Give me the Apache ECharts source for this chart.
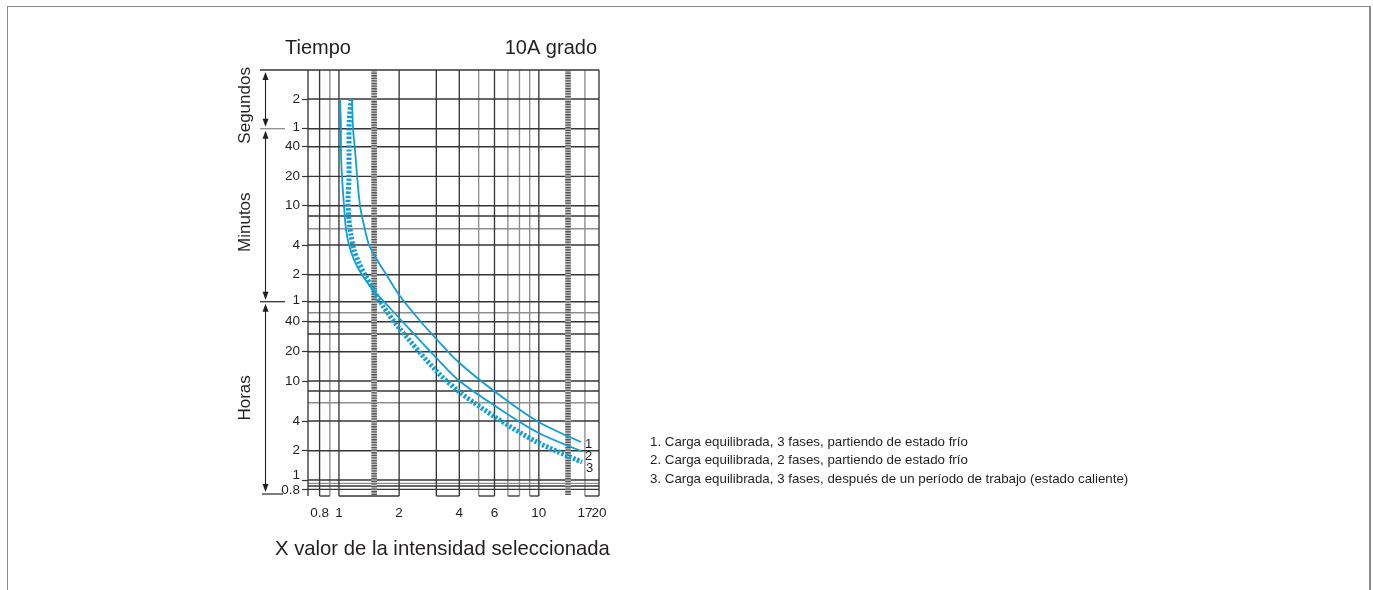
<!DOCTYPE html>
<html><head><meta charset="utf-8">
<script src="https://cdn.jsdelivr.net/npm/echarts@6/dist/echarts.min.js"></script>
<style>
html,body{margin:0;padding:0;background:#fff;}
#frame{position:absolute;left:7px;top:6px;width:1364px;height:620px;border-top:1.5px solid #8a8a8a;border-left:1.5px solid #8a8a8a;border-right:2px solid #8a8a8a;box-sizing:border-box;}
#chart{position:absolute;left:0;top:0;width:1373px;height:590px;}
</style></head><body>
<div id="frame"></div>
<div id="chart"></div>
<script>
// ---- data ----
const xMin = 0.7, xMax = 20;
const yMin = 0, yMax = 4.26;            // virtual position scale (top = 4.26)
const xTickValues = [0.8, 1, 2, 4, 6, 10, 17, 20];
const xTickLabels = ['0.8', '1', '2', '4', '6', '10', '17', '20'];
const yTickPos    = [3.97, 3.673, 3.493, 3.197, 2.903, 2.51, 2.213, 1.943, 1.743, 1.443, 1.15, 0.75, 0.453, 0.16, 0.067];
const yLabelPos   = [3.97, 3.69, 3.493, 3.197, 2.903, 2.51, 2.213, 1.96, 1.743, 1.443, 1.15, 0.75, 0.453, 0.21, 0.06];
const yTickLabels = ['2','1','40','20','10','4','2','1','40','20','10','4','2','1','0.8'];
const hLinesDark = [4.26, 3.97, 3.673, 3.493, 3.197, 2.903, 2.8, 2.51, 2.213, 1.943, 1.743, 1.62, 1.443, 1.15, 1.05, 0.75, 0.453, 0.16, 0.10, 0.067];
const hLinesGray = [2.673, 1.833, 0.933, 0.127];
const vLinesDark = [0.7, 0.8, 1, 2, 3.07, 4, 6, 10, 20];
const vLinesGray = [0.9, 5, 7, 8, 9, 17];
const vLinesHatched = [1.5, 14];
const bottomBoxes = [[0.8, 0.9], [1, 2], [3.07, 4], [5, 6], [7, 8], [9, 10], [17, 20]];
const sectionBounds = [4.26, 3.673, 1.943, 0.02];
const sectionNames = ['Segundos', 'Minutos', 'Horas'];
const curveNames = ['1', '2', '3'];
const curve1 = [[1.162,3.97],[1.176,3.67],[1.203,3.46],[1.232,3.20],[1.275,2.90],[1.336,2.70],[1.415,2.51],[1.552,2.36],[1.743,2.20],[2.001,2.01],[2.524,1.76],[3.073,1.57],[4.01,1.33],[6.151,1.03],[9.771,0.75],[16.26,0.54]];
const curve2 = [[1.012,3.97],[1.023,3.67],[1.023,3.46],[1.035,3.20],[1.06,2.90],[1.084,2.67],[1.123,2.51],[1.19,2.36],[1.305,2.21],[1.499,2.05],[1.743,1.91],[2.001,1.78],[3.073,1.38],[4.01,1.15],[6.151,0.89],[9.771,0.64],[16.26,0.45]];
const curve3 = [[1.149,3.97],[1.123,3.67],[1.123,3.46],[1.123,3.20],[1.11,2.96],[1.123,2.76],[1.149,2.61],[1.19,2.46],[1.26,2.33],[1.351,2.21],[1.482,2.07],[1.645,1.91],[2.001,1.68],[3.073,1.25],[4.01,1.04],[6.151,0.78],[9.771,0.54],[16.45,0.34]];
const legendLines = [
  '1. Carga equilibrada, 3 fases, partiendo de estado frío',
  '2. Carga equilibrada, 2 fases, partiendo de estado frío',
  '3. Carga equilibrada, 3 fases, después de un período de trabajo (estado caliente)'
];
const titleLeft = 'Tiempo';
const titleRight = '10A grado';
const xName = 'X valor de la intensidad seleccionada';

// ---- styles ----
const FONT = '"Liberation Sans", Arial, sans-serif';
const TXT = '#231f20';
const DARK = '#363636';
const GRAY = '#8e8e8e';
const BLUE = '#0e9fda';
const sectionTextShift = [6, 7, 0];

const segs = [];
hLinesGray.forEach(y => segs.push([xMin, y, xMax, y, 1]));
vLinesGray.forEach(x => segs.push([x, yMin, x, yMax, 1]));
hLinesDark.forEach(y => segs.push([xMin, y, xMax, y, 0]));
vLinesDark.forEach(x => segs.push([x, yMin, x, yMax, 0]));
bottomBoxes.forEach(b => segs.push([b[0], yMin, b[1], yMin, 0]));
vLinesHatched.forEach(x => segs.push([x, 0.01, x, yMax, 2]));

const chart = echarts.init(document.getElementById('chart'), null, {renderer: 'canvas'});

function curveSeries(name, data, style, off) {
  return {
    type: 'line', name: name, data: data, showSymbol: false, symbol: 'none',
    smooth: 0.3, z: 5, clip: false,
    lineStyle: style,
    endLabel: {show: true, formatter: name, distance: 4, offset: off, color: TXT, fontSize: 13, fontFamily: FONT},
    emphasis: {disabled: true}
  };
}
const tStyle = (s) => ({fontSize: s, fontWeight: 'normal', color: TXT, fontFamily: FONT});

chart.setOption({
  animation: false,
  backgroundColor: 'transparent',
  textStyle: {fontFamily: FONT},
  title: [
    {text: titleLeft, left: 285, top: 38, padding: 0, textStyle: tStyle(20)},
    {text: titleRight, right: 776, top: 38, padding: 0, textStyle: tStyle(20)},
    {text: xName, left: 275, top: 539, padding: 0, textStyle: tStyle(20.3)},
    {text: legendLines.join('\n'), left: 650, top: 433, padding: 0,
      textStyle: Object.assign(tStyle(13.3), {lineHeight: 18.5})}
  ],
  grid: {left: 308, top: 70, width: 291, height: 426, containLabel: false},
  xAxis: {
    type: 'log', logBase: 10, min: xMin, max: xMax,
    axisLine: {show: false}, axisTick: {show: false}, splitLine: {show: false}, minorSplitLine: {show: false},
    axisLabel: {show: false}
  },
  yAxis: {
    type: 'value', min: yMin, max: yMax,
    axisLine: {show: false}, splitLine: {show: false},
    axisTick: {customValues: yTickPos, length: 6, lineStyle: {color: DARK, width: 1.2}},
    axisLabel: {customValues: yLabelPos, margin: 8, fontSize: 13.5, color: TXT, fontFamily: FONT,
      showMinLabel: true, showMaxLabel: true,
      formatter: v => { const i = yLabelPos.findIndex(p => Math.abs(p - v) < 1e-6); return i >= 0 ? yTickLabels[i] : ''; }}
  },
  series: [
    {
      type: 'custom', name: 'grid', data: segs, clip: false, z: 1, silent: true,
      renderItem: (params, api) => {
        const a = api.coord([api.value(0), api.value(1)]);
        const b = api.coord([api.value(2), api.value(3)]);
        const k = api.value(4);
        const shape = {x1: a[0], y1: a[1], x2: b[0], y2: b[1]};
        if (k === 2) {
          return {type: 'group', children: [
            {type: 'line', shape: shape, style: {stroke: '#c2c2c2', lineWidth: 5.5}},
            {type: 'line', shape: shape, style: {stroke: '#555', lineWidth: 5.5, lineDash: [1.3, 1.3]}}
          ]};
        }
        return {type: 'line', shape: shape, style: {stroke: k === 0 ? DARK : GRAY, lineWidth: 1.35}};
      }
    },
    {
      type: 'custom', name: 'xLabels', clip: false, z: 3, silent: true,
      data: xTickValues.map((v, i) => [v, yMin, i]),
      renderItem: (params, api) => {
        const p = api.coord([api.value(0), api.value(1)]);
        return {type: 'text', x: p[0], y: p[1] + 17,
          style: {text: xTickLabels[api.value(2)], fontSize: 13.5, fill: TXT, align: 'center', verticalAlign: 'middle', fontFamily: FONT}};
      }
    },
    {
      type: 'custom', name: 'sections', clip: false, z: 2, silent: true,
      data: sectionNames.map((n, i) => [xMin, sectionBounds[i], sectionBounds[i + 1], i]),
      renderItem: (params, api) => {
        const t = api.coord([xMin, api.value(1)]);
        const b = api.coord([xMin, api.value(2)]);
        const L = t[0];
        const ax = L - 42.5;
        const i = api.value(3);
        return {type: 'group', children: [
          {type: 'line', shape: {x1: ax, y1: t[1] + 4, x2: ax, y2: b[1] - 4}, style: {stroke: TXT, lineWidth: 1.1}},
          {type: 'polygon', shape: {points: [[ax, t[1] + 2], [ax - 3, t[1] + 10], [ax + 3, t[1] + 10]]}, style: {fill: TXT}},
          {type: 'polygon', shape: {points: [[ax, b[1] - 2], [ax - 3, b[1] - 10], [ax + 3, b[1] - 10]]}, style: {fill: TXT}},
          {type: 'text', x: L - 63, y: (t[1] + b[1]) / 2 + sectionTextShift[i], rotation: Math.PI / 2,
            style: {text: sectionNames[i], fontSize: 17, fill: TXT, align: 'center', verticalAlign: 'middle', fontFamily: FONT}}
        ]};
      }
    },
    {
      type: 'custom', name: 'bounds', clip: false, z: 2, silent: true,
      data: sectionBounds.map((b, i) => [xMin, b, i]),
      renderItem: (params, api) => {
        const p = api.coord([xMin, api.value(1)]);
        const i = api.value(2);
        const L = p[0];
        let x1 = L - 48, x2 = L - 23, col = DARK;
        if (i === 0) { x2 = L; }
        if (i === 1) { col = GRAY; }
        if (i === sectionBounds.length - 1) { x1 = L - 46; x2 = L - 25; }
        return {type: 'line', shape: {x1: x1, y1: p[1], x2: x2, y2: p[1]}, style: {stroke: col, lineWidth: 1.3}};
      }
    },
    curveSeries(curveNames[0], curve1, {color: BLUE, width: 1.8}, [0, 2]),
    curveSeries(curveNames[1], curve2, {color: BLUE, width: 1.8}, [0, 5]),
    curveSeries(curveNames[2], curve3, {color: BLUE, width: 5, type: [2.4, 1.8], cap: 'butt'}, [0, 6])
  ]
});
</script>
</body></html>
